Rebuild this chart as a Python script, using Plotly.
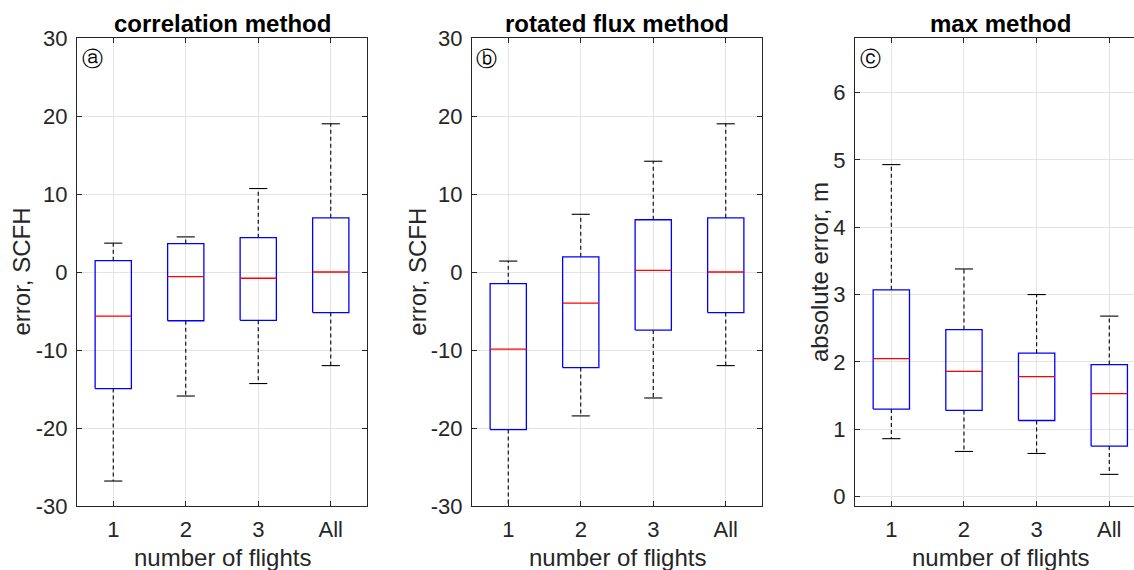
import plotly.graph_objects as go

# ---------------- data ----------------
categories = ["1", "2", "3", "All"]

corr_upper = [3.7, 4.5, 10.7, 19.0]
corr_q3 = [1.45, 3.64, 4.4, 6.95]
corr_median = [-5.65, -0.6, -0.8, 0.0]
corr_q1 = [-14.95, -6.25, -6.2, -5.2]
corr_lower = [-26.8, -15.9, -14.3, -12.0]

rot_upper = [1.4, 7.4, 14.2, 19.0]
rot_q3 = [-1.5, 1.95, 6.7, 6.95]
rot_median = [-9.9, -4.0, 0.2, 0.0]
rot_q1 = [-20.2, -12.25, -7.45, -5.2]
rot_lower = [-32.0, -18.45, -16.15, -12.0]

max_upper = [4.93, 3.38, 3.0, 2.68]
max_q3 = [3.07, 2.48, 2.13, 1.96]
max_median = [2.05, 1.86, 1.78, 1.53]
max_q1 = [1.30, 1.28, 1.13, 0.75]
max_lower = [0.86, 0.67, 0.64, 0.33]

err_ticks = [-30, -20, -10, 0, 10, 20, 30]
err_ticktext = ["-30", "-20", "-10", "0", "10", "20", "30"]
abs_ticks = [0, 1, 2, 3, 4, 5, 6]
abs_ticktext = ["0", "1", "2", "3", "4", "5", "6"]

titles = ["correlation method", "rotated flux method", "max method"]
ytitles = ["error, SCFH", "error, SCFH", "absolute error, m"]
xtitle = "number of flights"
panel_letters = ["ⓐ", "ⓑ", "ⓒ"]

# ---------------- style / layout ----------------
W, H = 1134, 570
T, B = 38, 64
PH = H - T - B
FONT = "Liberation Sans, Arial, sans-serif"
TXT = "#262626"
GRID = "#e3e3e3"
BOX_HALF = 0.25
CAP_HALF = 0.125

panels = [
    dict(left=77, right=367, full_right=367, data=(corr_upper, corr_q3, corr_median, corr_q1, corr_lower),
         yr=[-30, 30], tv=err_ticks, tt=err_ticktext, ytx=20.5, lx=92),
    dict(left=472, right=762, full_right=762, data=(rot_upper, rot_q3, rot_median, rot_q1, rot_lower),
         yr=[-30, 30], tv=err_ticks, tt=err_ticktext, ytx=416.7, lx=486.7),
    dict(left=855, right=1134, full_right=1145.6, data=(max_upper, max_q3, max_median, max_q1, max_lower),
         yr=[-0.14, 6.81], tv=abs_ticks, tt=abs_ticktext, ytx=819, lx=870),
]

fig = go.Figure()


def py2paper(py):
    return (H - B - py) / PH


annotations = []
for i, p in enumerate(panels):
    ax = "" if i == 0 else str(i + 1)
    xref, yref = "x" + ax, "y" + ax
    upper, q3, med, q1, lower = p["data"]
    pos = list(range(1, len(categories) + 1))

    bx, by, mx, my, wx, wy, cx, cy = [], [], [], [], [], [], [], []
    for k, xc in enumerate(pos):
        bx += [xc - BOX_HALF, xc + BOX_HALF, xc + BOX_HALF, xc - BOX_HALF, xc - BOX_HALF, None]
        by += [q1[k], q1[k], q3[k], q3[k], q1[k], None]
        mx += [xc - BOX_HALF, xc + BOX_HALF, None]
        my += [med[k], med[k], None]
        wx += [xc, xc, None, xc, xc, None]
        wy += [q3[k], upper[k], None, q1[k], lower[k], None]
        cx += [xc - CAP_HALF, xc + CAP_HALF, None, xc - CAP_HALF, xc + CAP_HALF, None]
        cy += [upper[k], upper[k], None, lower[k], lower[k], None]

    common = dict(mode="lines", xaxis=xref, yaxis=yref, showlegend=False, hoverinfo="skip")
    fig.add_trace(go.Scatter(x=wx, y=wy, line=dict(color="black", width=1.1, dash="4px,3px"), **common))
    fig.add_trace(go.Scatter(x=cx, y=cy, line=dict(color="black", width=1.1), **common))
    fig.add_trace(go.Scatter(x=bx, y=by, line=dict(color="#0000ff", width=1.3), **common))
    fig.add_trace(go.Scatter(x=mx, y=my, line=dict(color="#ff0000", width=1.3), **common))

    # x-range: full panel spans 0.5..4.5 over (left..full_right); may be cropped at figure edge
    unit = (p["full_right"] - p["left"]) / len(categories)
    xmax = 0.5 + (p["right"] - p["left"]) / unit

    axis_common = dict(
        showline=True, linecolor=TXT, linewidth=1.2, ticks="inside", ticklen=5, tickcolor=TXT,
        tickwidth=1, showgrid=True, gridcolor=GRID, gridwidth=1, zeroline=False,
        tickfont=dict(family=FONT, size=22, color=TXT),
    )
    fig.update_layout({
        "xaxis" + ax: dict(domain=[p["left"] / W, p["right"] / W], range=[0.5, xmax],
                           tickvals=pos, ticktext=categories, mirror="ticks", anchor=yref,
                           ticklabelstandoff=3, **axis_common),
        "yaxis" + ax: dict(domain=[0, 1], range=p["yr"], tickvals=p["tv"], ticktext=p["tt"],
                           mirror="ticks" if i < 2 else False, anchor=xref,
                           ticklabelstandoff=4, **axis_common),
    })

    cxp = (p["left"] + p["full_right"]) / 2 / W
    annotations.append(dict(text="<b>" + titles[i] + "</b>", x=cxp, y=py2paper(23.7), xref="paper",
                            yref="paper", showarrow=False, xanchor="center", yanchor="middle",
                            font=dict(family=FONT, size=24, color="black")))
    annotations.append(dict(text=xtitle, x=cxp, y=py2paper(557), xref="paper", yref="paper",
                            showarrow=False, xanchor="center", yanchor="middle",
                            font=dict(family=FONT, size=24, color=TXT)))
    annotations.append(dict(text=ytitles[i], x=p["ytx"] / W, y=0.5, xref="paper", yref="paper",
                            showarrow=False, xanchor="center", yanchor="middle", textangle=-90,
                            font=dict(family=FONT, size=24, color=TXT)))
    annotations.append(dict(text=panel_letters[i], x=p["lx"] / W, y=py2paper(59), xref="paper",
                            yref="paper", showarrow=False, xanchor="center", yanchor="middle",
                            font=dict(family="DejaVu Sans", size=21, color="black")))

fig.update_layout(
    width=W, height=H,
    margin=dict(l=0, r=0, t=T, b=B, pad=0),
    paper_bgcolor="white", plot_bgcolor="white",
    annotations=annotations,
    showlegend=False,
)

fig.write_html(
    "out.html",
    config={"displayModeBar": False},
    post_script="document.body.style.margin='0px';document.body.style.overflow='hidden';",
)
